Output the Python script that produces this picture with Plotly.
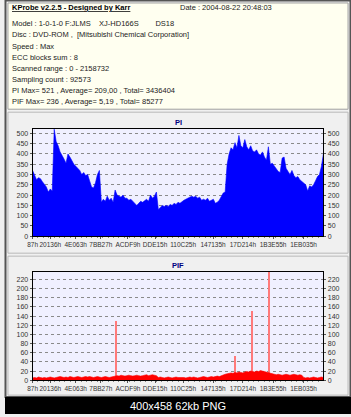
import plotly.graph_objects as go

W, H = 351, 417

scan_end = 2158732
x_tickvals = [0x87, 0x20136, 0x4E063, 0x7BB27, 0xACDF9, 0xDDE15, 0x110C25, 0x147135, 0x17D214, 0x1B3E55, 0x1EB035]
x_ticktext = ["87h", "20136h", "4E063h", "7BB27h", "ACDF9h", "DDE15h", "110C25h", "147135h", "17D214h", "1B3E55h", "1EB035h"]

pi_values = [
    320, 300, 275, 285, 280, 265, 250, 240, 215, 230, 220, 520, 460, 440, 410, 395, 375, 355, 400, 385,
    365, 350, 340, 330, 320, 300, 310, 295, 300, 270, 240, 235, 260, 300, 320, 165, 180, 170, 195, 175,
    185, 165, 225, 200, 195, 190, 200, 185, 185, 175, 180, 170, 165, 150, 160, 170, 165, 175, 180, 170,
    200, 185, 195, 215, 130, 140, 150, 145, 150, 145, 155, 150, 160, 155, 165, 160, 170, 175, 180, 185,
    190, 195, 190, 195, 185, 190, 175, 180, 175, 185, 170, 175, 180, 160, 165, 175, 195, 210, 215, 350,
    400, 430, 420, 455, 430, 490, 440, 430, 470, 435, 420, 440, 415, 410, 420, 400, 395, 410, 385, 370,
    435, 350, 355, 340, 325, 315, 310, 380, 385, 330, 315, 300, 320, 295, 285, 290, 275, 265, 255, 250,
    220, 245, 240, 250, 270, 290, 300, 340, 400,
]

pif_values = [
    5, 6, 5, 7, 6, 5, 6, 5, 6, 7, 6, 5, 6, 7, 8, 7, 6, 7, 6, 8, 7, 6, 7, 8, 7, 6, 7, 8, 7, 8, 7, 6, 7, 8, 7, 6, 7, 8, 7, 6, 7, 8,
    9, 10, 9, 11, 10, 9, 10, 11, 10, 9, 10, 11, 10, 9, 10, 11, 12, 10, 11, 12, 11, 10,
    6, 7, 6, 5, 6, 7, 6, 5, 6, 7, 6, 6, 7, 6, 5, 6, 7, 6, 7, 6, 5, 6, 7, 8, 7, 6, 7, 8, 7, 8, 9, 8, 10, 11,
    13, 14, 15, 16, 15, 17, 16, 18, 17, 16, 18, 19, 18, 20, 19, 18, 20, 19, 21, 20, 19, 18,
    16, 15, 14, 13, 12, 13, 12, 11, 12, 13, 12, 11, 12, 13, 12, 11, 12, 11,
    6, 5, 6, 5, 6, 7, 6, 5, 6, 7, 6,
]

pif_spike_lba = [613300, 1501600, 1623300, 1752300]
pif_spike_vals = [130, 52, 150, 236]

pi_max, pif_max = 521, 236

info_lines = [
    "Model : 1-0-1-0 F:JLMS    XJ-HD166S        DS18",
    "Disc : DVD-ROM ,  [Mitsubishi Chemical Corporation]",
    "Speed : Max",
    "ECC blocks sum : 8",
    "Scanned range : 0 - 2158732",
    "Sampling count : 92573",
    "PI Max= 521 , Average= 209,00 , Total= 3436404",
    "PIF Max= 236 , Average= 5,19 , Total= 85277",
]


def px(x):
    return x / W


def py(y):
    return 1 - y / H


def xs_for(vals):
    n = len(vals)
    step = scan_end / (n - 1)
    return [i * step for i in range(n)], step


pi_x, pi_w = xs_for(pi_values)
pif_x, pif_w = xs_for(pif_values)

fig = go.Figure()
fig.add_trace(go.Scatter(x=pi_x, y=pi_values, mode="lines", line=dict(color="#0000FF", width=0.6, shape="linear"),
                         fill="tozeroy", fillcolor="#0000FF", xaxis="x", yaxis="y", showlegend=False,
                         hoverinfo="skip"))
fig.add_trace(go.Scatter(x=pif_x, y=pif_values, mode="lines", line=dict(color="#FF0000", width=0.6, shape="linear"),
                         fill="tozeroy", fillcolor="#FF0000", xaxis="x2", yaxis="y3", showlegend=False,
                         hoverinfo="skip"))
fig.add_trace(go.Bar(x=pif_spike_lba, y=pif_spike_vals, width=pif_w * 0.45,
                     marker=dict(color="#FF7A7A", line=dict(width=0)),
                     xaxis="x2", yaxis="y3", showlegend=False))
# invisible traces to anchor right-hand axes
fig.add_trace(go.Scatter(x=[None], y=[None], xaxis="x", yaxis="y2", showlegend=False))
fig.add_trace(go.Scatter(x=[None], y=[None], xaxis="x2", yaxis="y4", showlegend=False))

tickfont = dict(family="Liberation Sans", size=7, color="#333333")
xtickfont = dict(family="Liberation Sans", size=6.5, color="#333333")
xd = [px(28), px(323)]
pi_dom = [py(238), py(130)]
pif_dom = [py(383), py(274)]

xcommon = dict(range=[0, scan_end], tickvals=x_tickvals, ticktext=x_ticktext, tickfont=xtickfont,
               tickangle=0, showline=True, linecolor="#000000", linewidth=1, mirror=True, ticks="outside",
               ticklen=2, tickcolor="#555555", showgrid=False, zeroline=False,
               minor=dict(ticks="outside", ticklen=1, dtick=40000, tickcolor="#888888"))
ycommon = dict(tickfont=tickfont, showline=True, linecolor="#000000", linewidth=1, ticks="outside",
               ticklen=2, tickcolor="#555555", zeroline=False, fixedrange=True)

fig.update_layout(
    width=W, height=H, margin=dict(l=0, r=0, t=0, b=0),
    paper_bgcolor="#F0F0F0", plot_bgcolor="#F0F0FF", bargap=0, barmode="overlay",
    xaxis=dict(domain=xd, anchor="y", **xcommon),
    yaxis=dict(domain=pi_dom, anchor="x", range=[0, pi_max], dtick=50, showgrid=True,
               gridcolor="#8A8A8A", griddash="dot", gridwidth=1, mirror=True, **ycommon),
    yaxis2=dict(overlaying="y", side="right", anchor="x", range=[0, pi_max], dtick=50,
                showgrid=False, **ycommon),
    xaxis2=dict(domain=xd, anchor="y3", **xcommon),
    yaxis3=dict(domain=pif_dom, anchor="x2", range=[0, pif_max], dtick=20, showgrid=True,
                gridcolor="#8A8A8A", griddash="dot", gridwidth=1, mirror=True, **ycommon),
    yaxis4=dict(overlaying="y3", side="right", anchor="x2", range=[0, pif_max], dtick=20,
                showgrid=False, **ycommon),
)

shapes = [
    dict(type="rect", xref="paper", yref="paper", x0=px(0.5), x1=px(350.5), y0=py(400), y1=py(0.5),
         line=dict(color="#555555", width=2), fillcolor="rgba(0,0,0,0)", layer="above"),
    dict(type="rect", xref="paper", yref="paper", x0=px(3), x1=px(348), y0=py(110), y1=py(3),
         line=dict(color="#A0A0A0", width=1), fillcolor="#FFFFF0", layer="below"),
    dict(type="rect", xref="paper", yref="paper", x0=px(3), x1=px(348), y0=py(255), y1=py(113),
         line=dict(color="#B8B8B8", width=1), fillcolor="rgba(0,0,0,0)", layer="below"),
    dict(type="rect", xref="paper", yref="paper", x0=px(3), x1=px(348), y0=py(398), y1=py(258),
         line=dict(color="#B8B8B8", width=1), fillcolor="rgba(0,0,0,0)", layer="below"),
    dict(type="rect", xref="paper", yref="paper", x0=0, x1=1, y0=0, y1=py(400),
         line=dict(width=0), fillcolor="#000000", layer="above"),
]
fig.update_layout(shapes=shapes)

ann = []
textfont = dict(family="Liberation Sans", size=7.5, color="#222222")
ann.append(dict(text="<u><b>KProbe v2.2.5 - Designed by Karr</b></u>", x=px(5), y=py(8), xref="paper",
                yref="paper", xanchor="left", yanchor="middle", showarrow=False,
                font=dict(family="Liberation Sans", size=7.5, color="#000000")))
ann.append(dict(text="Date : 2004-08-22 20:48:03", x=px(175), y=py(8), xref="paper", yref="paper",
                xanchor="left", yanchor="middle", showarrow=False, font=textfont))
for i, line in enumerate(info_lines):
    ann.append(dict(text=line, x=px(5), y=py(24 + i * 11.2), xref="paper", yref="paper",
                    xanchor="left", yanchor="middle", showarrow=False, font=textfont))
ann.append(dict(text="<b>PI</b>", x=px(176), y=py(123), xref="paper", yref="paper", showarrow=False,
                xanchor="center", yanchor="middle",
                font=dict(family="Liberation Sans", size=7.5, color="#000080")))
ann.append(dict(text="<b>PIF</b>", x=px(176), y=py(267), xref="paper", yref="paper", showarrow=False,
                xanchor="center", yanchor="middle",
                font=dict(family="Liberation Sans", size=7.5, color="#000080")))
ann.append(dict(text="400x458 62kb PNG", x=px(175), y=py(409), xref="paper", yref="paper",
                showarrow=False, xanchor="center", yanchor="middle",
                font=dict(family="Liberation Sans", size=11, color="#FFFFFF")))
fig.update_layout(annotations=ann)

fig.write_html("out.html")
